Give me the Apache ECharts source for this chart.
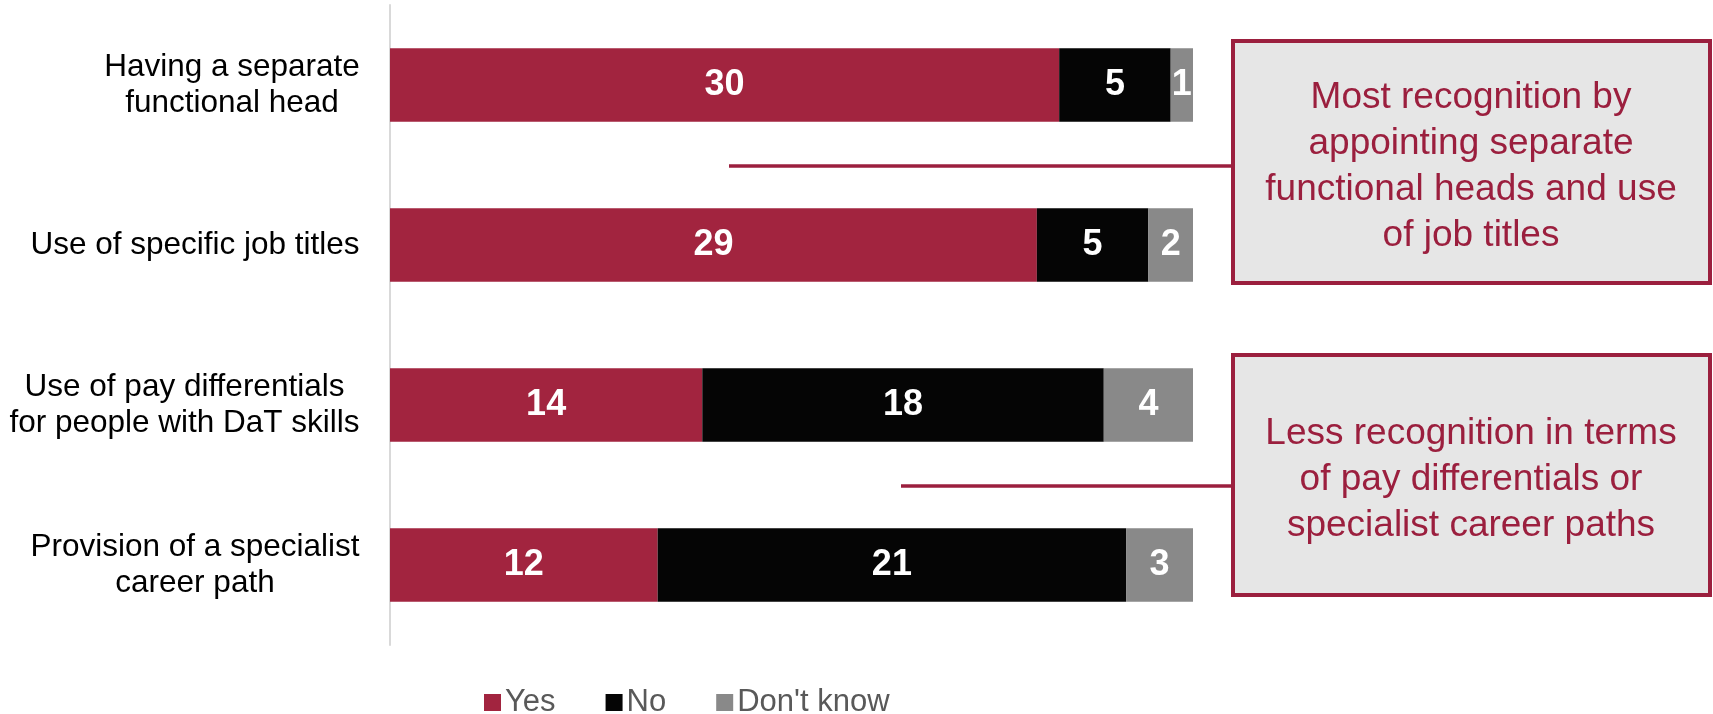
<!DOCTYPE html>
<html>
<head>
<meta charset="utf-8">
<script src="https://cdn.jsdelivr.net/npm/echarts@6/dist/echarts.min.js"></script>
<style>
  html, body { margin: 0; padding: 0; background: #ffffff; }
  #chart { width: 1713px; height: 714px; }
</style>
</head>
<body>
<div id="chart"></div>
<script>
// Survey responses: forms of recognition for data and technology (DaT) professions
const categories = [
  'Having a separate\nfunctional head',
  'Use of specific job titles',
  'Use of pay differentials\nfor people with DaT skills',
  'Provision of a specialist\ncareer path'
];
const yesValues = [30, 29, 14, 12];
const noValues = [5, 5, 18, 21];
const dontKnowValues = [1, 2, 4, 3];
const seriesNames = ['Yes', 'No', "Don't know"];

const annotationTop = 'Most recognition by\nappointing separate\nfunctional heads and use\nof job titles';
const annotationBottom = 'Less recognition in terms\nof pay differentials or\nspecialist career paths';

const FONT = "'Liberation Sans', Arial, Helvetica, sans-serif";
const RED = '#A2243F';
const BLACK = '#050505';
const GREY = '#898989';
const ACCENT = '#9B1F3E';

// Measure each category label so its lines can be centred inside a right-aligned block
const measureCtx = document.createElement('canvas').getContext('2d');
measureCtx.font = '31.5px ' + FONT;
const labelRich = {};
categories.forEach(function (name, i) {
  const w = Math.max.apply(null, name.split('\n').map(function (s) {
    return measureCtx.measureText(s).width;
  }));
  labelRich['c' + i] = {
    width: Math.ceil(w) + 2,
    align: 'center',
    fontSize: 31.5,
    lineHeight: 36,
    color: '#000000',
    fontFamily: FONT
  };
});

const chart = echarts.init(document.getElementById('chart'), null, { renderer: 'canvas' });

function barSeries(name, data, color) {
  return {
    name: name,
    type: 'bar',
    stack: 'total',
    data: data,
    barWidth: '46%',
    itemStyle: { color: color },
    label: {
      show: true,
      position: 'inside',
      color: '#ffffff',
      fontWeight: 'bold',
      fontSize: 36,
      fontFamily: FONT
    },
    emphasis: { disabled: true }
  };
}

chart.setOption({
  animation: false,
  backgroundColor: '#ffffff',
  grid: { left: 390, right: 520, top: 5, bottom: 69, containLabel: false },
  xAxis: {
    type: 'value',
    min: 0,
    max: 36,
    show: false
  },
  yAxis: {
    type: 'category',
    inverse: true,
    data: categories,
    axisLine: { show: true, lineStyle: { color: '#D9D9D9', width: 2 } },
    axisTick: { show: false },
    splitLine: { show: false },
    axisLabel: {
      margin: 29,
      align: 'right',
      formatter: function (value, index) {
        return value.split('\n').map(function (s) {
          return '{c' + index + '|' + s + '}';
        }).join('\n');
      },
      rich: labelRich
    }
  },
  legend: {
    data: seriesNames,
    bottom: -9,
    left: 479,
    icon: 'rect',
    itemWidth: 17,
    itemHeight: 17,
    itemGap: 50,
    textStyle: { fontSize: 31, color: '#595959', fontFamily: FONT, padding: [0, 0, 0, -1] }
  },
  series: [
    barSeries(seriesNames[0], yesValues, RED),
    barSeries(seriesNames[1], noValues, BLACK),
    barSeries(seriesNames[2], dontKnowValues, GREY)
  ],
  graphic: [
    {
      type: 'line',
      shape: { x1: 729, y1: 166, x2: 1231, y2: 166 },
      style: { stroke: ACCENT, lineWidth: 3.5 }
    },
    {
      type: 'line',
      shape: { x1: 901, y1: 486, x2: 1231, y2: 486 },
      style: { stroke: ACCENT, lineWidth: 3.5 }
    },
    {
      type: 'rect',
      shape: { x: 1233, y: 41, width: 477, height: 242 },
      style: { fill: '#E6E6E6', stroke: ACCENT, lineWidth: 4 }
    },
    {
      type: 'text',
      x: 1471,
      y: 167,
      style: {
        text: annotationTop,
        fill: ACCENT,
        font: '37px ' + FONT,
        lineHeight: 46,
        align: 'center',
        verticalAlign: 'middle'
      }
    },
    {
      type: 'rect',
      shape: { x: 1233, y: 355, width: 477, height: 240 },
      style: { fill: '#E6E6E6', stroke: ACCENT, lineWidth: 4 }
    },
    {
      type: 'text',
      x: 1471,
      y: 480,
      style: {
        text: annotationBottom,
        fill: ACCENT,
        font: '37px ' + FONT,
        lineHeight: 46,
        align: 'center',
        verticalAlign: 'middle'
      }
    }
  ]
});
</script>
</body>
</html>
